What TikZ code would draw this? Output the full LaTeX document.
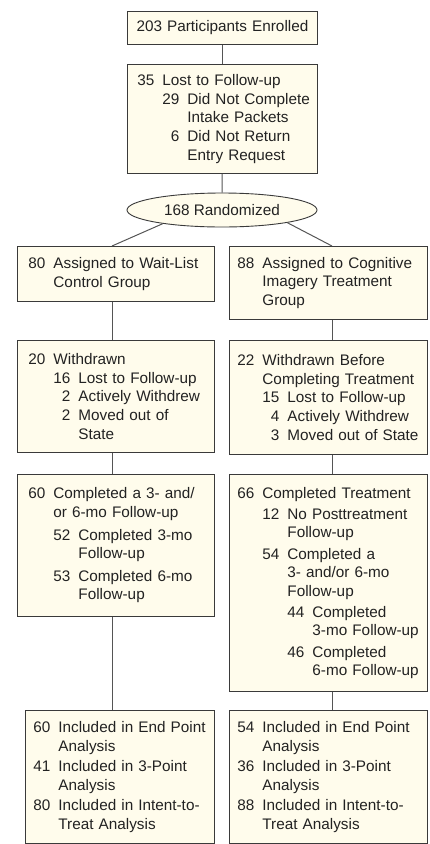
\documentclass[tikz,border=0pt]{standalone}
\usepackage{fontspec}
\setmainfont{Liberation Sans}
\usetikzlibrary{shapes.geometric}

% colores
\definecolor{crema}{RGB}{255,252,236}
\definecolor{borde}{RGB}{58,58,58}
\definecolor{linea}{RGB}{85,85,85}
\definecolor{texto}{RGB}{34,34,34}

% renglon con numero
% #1: sangria (pt), #2: numero, #3: texto
\newcommand{\renglon}[3]{\hspace*{#1pt}\makebox[17pt][r]{#2}\hspace*{8pt}\mbox{#3}}
% renglon de continuacion
% #1: sangria (pt), #2: texto
\newcommand{\sigue}[2]{\hspace*{#1pt}\hspace*{25pt}\mbox{#2}}

\begin{document}
\begin{tikzpicture}[x=1pt,y=-1pt]

% estilos de caja y linea
\tikzstyle{caja} = [draw=borde,fill=crema,line width=0.9pt,anchor=north west,
  align=left,text=texto,inner ysep=0pt,
  font=\fontsize{15.3}{18.6}\selectfont]
\tikzstyle{enlace} = [draw=linea,line width=1pt]

\useasboundingbox (0,0) rectangle (429,844);

% columnas de los enlaces
\coordinate (colI) at (112,0);
\coordinate (colD) at (332,0);

% cajas superiores
\node[caja,align=center,text width=190pt,inner xsep=0pt,minimum height=33pt]
  (enrolled) at (127,11) {203 Participants Enrolled};
\node[caja,text width=170pt,inner xsep=10pt,minimum height=109pt] (lost) at (127,64) {%
\renglon{0}{35}{Lost to Follow-up}\\
\renglon{25}{29}{Did Not Complete}\\
\sigue{25}{Intake Packets}\\
\renglon{25}{6}{Did Not Return}\\
\sigue{25}{Entry Request}};
\node[draw=borde,fill=crema,line width=0.9pt,ellipse,inner sep=0pt,text=texto,
  minimum width=190pt,minimum height=34pt,font=\fontsize{15.3}{18.6}\selectfont]
  (rand) at (222,210) {168 Randomized};

% rama de lista de espera
\node[caja,text width=175pt,inner xsep=11pt,minimum height=55pt] (control) at (17,246) {%
\renglon{0}{80}{Assigned to Wait-List}\\
\sigue{0}{Control Group}};
\node[caja,text width=175pt,inner xsep=11pt,minimum height=112pt] (wdl) at (17,340) {%
\renglon{0}{20}{Withdrawn}\\
\renglon{25}{16}{Lost to Follow-up}\\
\renglon{25}{2}{Actively Withdrew}\\
\renglon{25}{2}{Moved out of}\\
\sigue{25}{State}};
\node[caja,text width=175pt,inner xsep=11pt,minimum height=142pt] (cpl) at (17,474) {%
\renglon{0}{60}{Completed a 3- and/}\\
\sigue{0}{or 6-mo Follow-up}\\[4pt]
\renglon{25}{52}{Completed 3-mo}\\
\sigue{25}{Follow-up}\\[4pt]
\renglon{25}{53}{Completed 6-mo}\\
\sigue{25}{Follow-up}};
\node[caja,text width=173pt,inner xsep=8pt,minimum height=133pt] (anl) at (25,710) {%
\renglon{0}{60}{Included in End Point}\\
\sigue{0}{Analysis}\\[2pt]
\renglon{0}{41}{Included in 3-Point}\\
\sigue{0}{Analysis}\\[2pt]
\renglon{0}{80}{Included in Intent-to-}\\
\sigue{0}{Treat Analysis}};

% rama de tratamiento
\node[caja,text width=182pt,inner xsep=8pt,minimum height=73pt] (cogn) at (229,246) {%
\renglon{0}{88}{Assigned to Cognitive}\\
\sigue{0}{Imagery Treatment}\\
\sigue{0}{Group}};
\node[caja,text width=182pt,inner xsep=8pt,minimum height=114pt] (wdr) at (229,340) {%
\renglon{0}{22}{Withdrawn Before}\\
\sigue{0}{Completing Treatment}\\
\renglon{25}{15}{Lost to Follow-up}\\
\renglon{25}{4}{Actively Withdrew}\\
\renglon{25}{3}{Moved out of State}};
\node[caja,text width=182pt,inner xsep=8pt,minimum height=217pt] (cpr) at (229,474) {%
\renglon{0}{66}{Completed Treatment}\\[2.5pt]
\renglon{25}{12}{No Posttreatment}\\
\sigue{25}{Follow-up}\\[2.5pt]
\renglon{25}{54}{Completed a}\\
\sigue{25}{3- and/or 6-mo}\\
\sigue{25}{Follow-up}\\[2.5pt]
\renglon{50}{44}{Completed}\\
\sigue{50}{3-mo Follow-up}\\[2.5pt]
\renglon{50}{46}{Completed}\\
\sigue{50}{6-mo Follow-up}};
\node[caja,text width=182pt,inner xsep=8pt,minimum height=133pt] (anr) at (229,710) {%
\renglon{0}{54}{Included in End Point}\\
\sigue{0}{Analysis}\\[2pt]
\renglon{0}{36}{Included in 3-Point}\\
\sigue{0}{Analysis}\\[2pt]
\renglon{0}{88}{Included in Intent-to-}\\
\sigue{0}{Treat Analysis}};

% enlaces
\begin{scope}[enlace]
\draw (enrolled) -- (lost);
\draw (lost) -- (rand);
\draw (rand.-167) -- (control.north -| colI);
\draw (rand.-11) -- (cogn.north -| colD);
\draw (control.south -| colI) -- (wdl.north -| colI);
\draw (wdl.south -| colI) -- (cpl.north -| colI);
\draw (cpl.south -| colI) -- (anl.north -| colI);
\draw (cogn.south -| colD) -- (wdr.north -| colD);
\draw (wdr.south -| colD) -- (cpr.north -| colD);
\draw (cpr.south -| colD) -- (anr.north -| colD);
\end{scope}

\end{tikzpicture}
\end{document}
